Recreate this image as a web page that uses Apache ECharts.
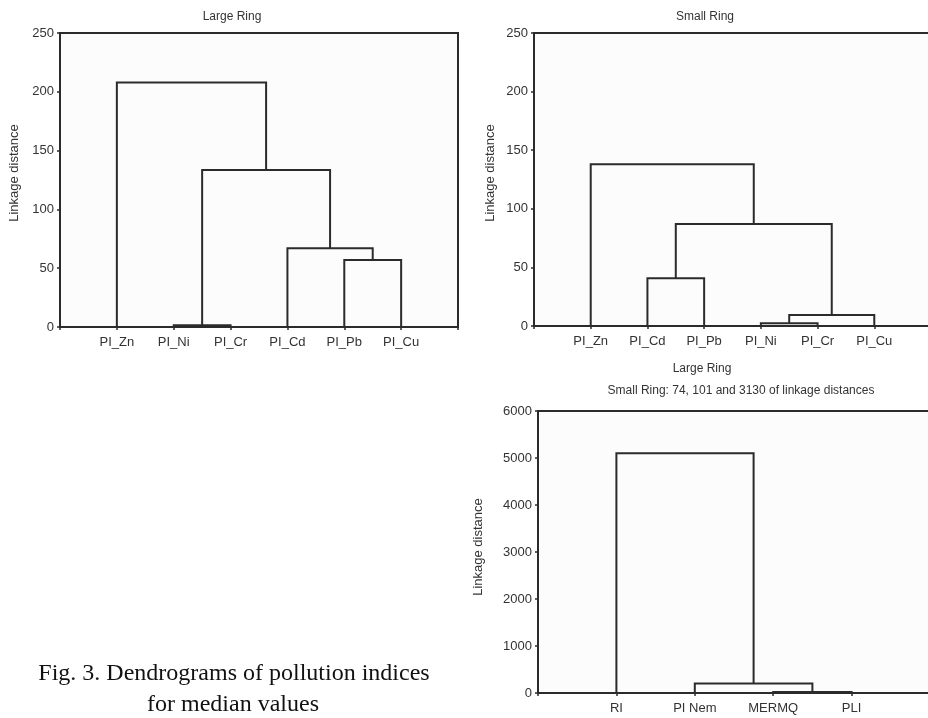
<!DOCTYPE html>
<html>
<head>
<meta charset="utf-8">
<title>Dendrograms of pollution indices</title>
<script src="https://cdn.jsdelivr.net/npm/echarts@6.0.0/dist/echarts.min.js"></script>
<style>
  html, body { margin: 0; padding: 0; background: #fff; }
  #chart { width: 928px; height: 718px; }
</style>
</head>
<body>
<div id="chart"></div>
<script>
// leaves in drawing order, merges as [childA, childB, linkage distance]
// (child index < leaves.length is a leaf, otherwise the cluster made by merge[index - leaves.length])
const leavesLarge = ["PI_Zn", "PI_Ni", "PI_Cr", "PI_Cd", "PI_Pb", "PI_Cu"];
const mergesLarge = [[1, 2, 1.5], [4, 5, 57], [3, 7, 67], [6, 8, 133.5], [0, 9, 208]];

const leavesSmall = ["PI_Zn", "PI_Cd", "PI_Pb", "PI_Ni", "PI_Cr", "PI_Cu"];
const mergesSmall = [[3, 4, 2.3], [5, 6, 9.4], [1, 2, 40.7], [8, 7, 87], [0, 9, 138]];

const leavesIdx = ["RI", "PI Nem", "MERMQ", "PLI"];
const mergesIdx = [[2, 3, 20], [1, 4, 200], [0, 5, 5100]];

const yTicksMetal = [0, 50, 100, 150, 200, 250];
const yTicksIdx = [0, 1000, 2000, 3000, 4000, 5000, 6000];

const lineColor = "#2b2b2b";
const textColor = "#333";
const sans = '"Liberation Sans", Arial, sans-serif';
const serif = '"Liberation Serif", "Times New Roman", serif';

// turn a merge list into polylines (leaf i sits at x = i + 1)
const dendroLines = (leaves, merges) => {
  const pos = leaves.map((_, i) => [i + 1, 0]);
  const lines = [];
  merges.forEach(([a, b, h]) => {
    const pa = pos[a];
    const pb = pos[b];
    lines.push({ coords: [[pa[0], pa[1]], [pa[0], h], [pb[0], h], [pb[0], pb[1]]] });
    pos.push([(pa[0] + pb[0]) / 2, h]);
  });
  return lines;
};

// the two right-hand panels run a little past the page edge, as in the source figure
const grids = [
  { left: 60, top: 33, width: 398, height: 294 },
  { left: 534, top: 33, width: 397, height: 293 },
  { left: 538, top: 411, width: 392, height: 282 },
].map((g) => ({
  ...g,
  show: true,
  outerBoundsMode: "none",
  containLabel: false,
  borderColor: lineColor,
  borderWidth: 2,
  backgroundColor: "#fcfcfc",
}));

const panels = [
  { leaves: leavesLarge, merges: mergesLarge, ticks: yTicksMetal },
  { leaves: leavesSmall, merges: mergesSmall, ticks: yTicksMetal },
  { leaves: leavesIdx, merges: mergesIdx, ticks: yTicksIdx },
];

const xAxis = [];
const yAxis = [];
const series = [];

panels.forEach((p, i) => {
  const n = p.leaves.length;
  const base = { type: "value", gridIndex: i, min: 0, max: n + 1, interval: 1, splitLine: { show: false } };
  // bottom axis: leaf names
  xAxis.push({
    ...base,
    position: "bottom",
    axisLine: { show: false },
    axisTick: { show: false },
    axisLabel: {
      margin: 9,
      color: textColor,
      fontFamily: sans,
      fontSize: 13,
      formatter: (v) => p.leaves[v - 1] || "",
    },
  });
  // top axis: inward ticks only
  xAxis.push({
    ...base,
    position: "top",
    axisLine: { show: false },
    axisLabel: { show: false },
    axisTick: { inside: true, length: 3, lineStyle: { color: lineColor, width: 1.5 } },
  });
  const tmin = p.ticks[0];
  const tmax = p.ticks[p.ticks.length - 1];
  const yBase = { type: "value", gridIndex: i, min: tmin, max: tmax, interval: p.ticks[1] - p.ticks[0], splitLine: { show: false } };
  yAxis.push({
    ...yBase,
    position: "left",
    axisLine: { show: false },
    axisTick: { show: true, length: 3, lineStyle: { color: lineColor, width: 1.5 } },
    axisLabel: { margin: 6, color: textColor, fontFamily: sans, fontSize: 13, formatter: (v) => String(v) },
  });
  yAxis.push({
    ...yBase,
    position: "right",
    axisLine: { show: false },
    axisLabel: { show: false },
    axisTick: { show: true, inside: true, length: 3, lineStyle: { color: lineColor, width: 1.5 } },
  });
  series.push({
    type: "lines",
    coordinateSystem: "cartesian2d",
    xAxisIndex: i * 2,
    yAxisIndex: i * 2,
    polyline: true,
    silent: true,
    lineStyle: { color: lineColor, width: 2, opacity: 1 },
    data: dendroLines(p.leaves, p.merges),
  });
});

const label = (text, x, y, size, rotate, font) => ({
  type: "text",
  x,
  y,
  rotation: rotate ? Math.PI / 2 : 0,
  style: {
    text,
    fill: font ? "#111" : textColor,
    font: size + "px " + (font || sans),
    align: "center",
    verticalAlign: "middle",
  },
});

const graphic = [
  label("Large Ring", 232, 17, 12),
  label("Small Ring", 705, 17, 12),
  label("Large Ring", 702, 369, 12),
  label("Small Ring: 74, 101 and 3130 of linkage distances", 741, 391, 12),
  label("Linkage distance", 14, 173, 13, true),
  label("Linkage distance", 490, 173, 13, true),
  label("Linkage distance", 478, 547, 13, true),
  label("Fig. 3. Dendrograms of pollution indices", 234, 674, 24, false, serif),
  label("for median values", 233, 705, 24, false, serif),
];

const charts = echarts.init(document.getElementById("chart"));
charts.setOption({
  backgroundColor: "#fff",
  animation: false,
  grid: grids,
  xAxis,
  yAxis,
  series,
  graphic,
});
</script>
</body>
</html>
